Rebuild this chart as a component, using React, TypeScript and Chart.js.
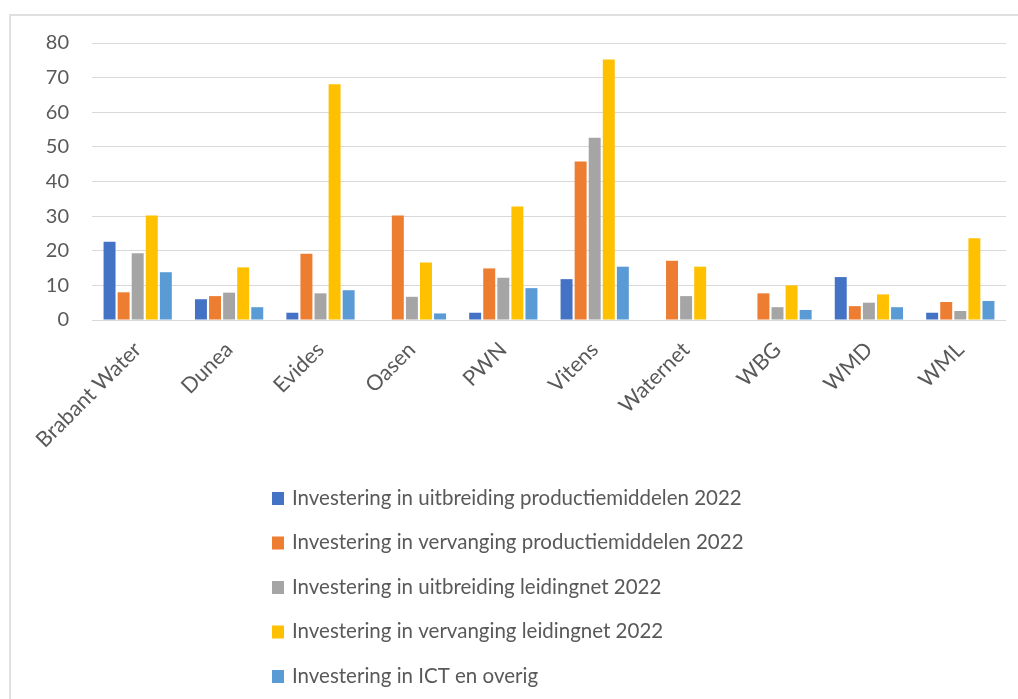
import React, { useEffect, useRef } from "react";
import { Chart, registerables } from "chart.js";

Chart.register(...registerables);

const categories = ["Brabant Water", "Dunea", "Evides", "Oasen", "PWN", "Vitens", "Waternet", "WBG", "WMD", "WML"];

const uitbreidingProductie = [22.6, 6.0, 2.1, 0, 2.1, 11.8, 0, 0, 12.4, 2.1];
const vervangingProductie = [8.0, 6.9, 19.1, 30.2, 14.9, 45.8, 17.1, 7.7, 4.0, 5.2];
const uitbreidingLeidingnet = [19.3, 7.9, 7.7, 6.7, 12.2, 52.6, 6.9, 3.7, 5.0, 2.6];
const vervangingLeidingnet = [30.2, 15.2, 68.1, 16.6, 32.8, 75.2, 15.4, 10.0, 7.4, 23.6];
const ictOverig = [13.8, 3.7, 8.6, 1.9, 9.2, 15.4, 0, 2.9, 3.7, 5.5];

const seriesLabels = [
  "Investering in uitbreiding productiemiddelen 2022",
  "Investering in vervanging productiemiddelen 2022",
  "Investering in uitbreiding leidingnet 2022",
  "Investering in vervanging leidingnet 2022",
  "Investering in ICT en overig",
];
const seriesColors = ["#4472C4", "#ED7D31", "#A5A5A5", "#FFC000", "#5B9BD5"];

const yTicks = [0, 10, 20, 30, 40, 50, 60, 70, 80];

const FONT = "Lato, 'Open Sans', sans-serif";
const TEXT = "#595959";

const verticalLegend = {
  id: "verticalLegend",
  afterDraw(chart: any) {
    const ctx = chart.ctx;
    ctx.save();
    ctx.font = `20.5px ${FONT}`;
    ctx.textBaseline = "middle";
    ctx.textAlign = "left";
    const left = 272;
    const top = 498;
    const step = 44.5;
    chart.data.datasets.forEach((ds: any, i: number) => {
      const y = top + i * step;
      ctx.fillStyle = ds.backgroundColor;
      ctx.fillRect(left, y - 6, 12, 13);
      ctx.fillStyle = TEXT;
      ctx.fillText(ds.label, left + 20, y);
    });
    ctx.restore();
  },
};

export default function App() {
  const ref = useRef<HTMLCanvasElement | null>(null);
  useEffect(() => {
    if (!ref.current) return;
    const datasets = [uitbreidingProductie, vervangingProductie, uitbreidingLeidingnet, vervangingLeidingnet, ictOverig].map(
      (data, i) => ({
        label: seriesLabels[i],
        data,
        backgroundColor: seriesColors[i],
        borderWidth: 0,
        barPercentage: 0.85,
        categoryPercentage: 0.77,
      })
    );
    const chart = new Chart(ref.current, {
      type: "bar",
      data: { labels: categories, datasets },
      options: {
        animation: false,
        responsive: true,
        maintainAspectRatio: false,
        layout: { padding: { top: 43, right: 12, bottom: 229, left: 0 } },
        plugins: { legend: { display: false }, tooltip: { enabled: false } },
        scales: {
          x: {
            grid: { display: false, drawTicks: false },
            border: { display: false },
            ticks: {
              minRotation: 45,
              maxRotation: 45,
              autoSkip: false,
              padding: 17,
              color: TEXT,
              font: { family: FONT, size: 21.5 },
            },
            afterFit: (axis: any) => {
              axis.height = 150;
            },
          },
          y: {
            min: 0,
            max: 80,
            afterBuildTicks: (axis: any) => {
              axis.ticks = yTicks.map((v) => ({ value: v }));
            },
            grid: { color: "#d9d9d9", lineWidth: 1, drawTicks: false },
            border: { display: false },
            ticks: {
              padding: 23,
              color: TEXT,
              font: { family: FONT, size: 20 },
            },
            afterFit: (axis: any) => {
              axis.width = 92;
            },
          },
        },
      },
      plugins: [verticalLegend],
    });
    return () => chart.destroy();
  }, []);

  return (
    <>
      <div
        style={{
          position: "fixed",
          left: 9,
          top: 14,
          width: 1030,
          height: 720,
          borderLeft: "2px solid #e0e0e0",
          borderTop: "2px solid #e0e0e0",
          boxSizing: "border-box",
        }}
      />
      <div style={{ position: "fixed", left: 0, top: 0, width: 1018, height: 699 }}>
        <canvas ref={ref} />
      </div>
    </>
  );
}
